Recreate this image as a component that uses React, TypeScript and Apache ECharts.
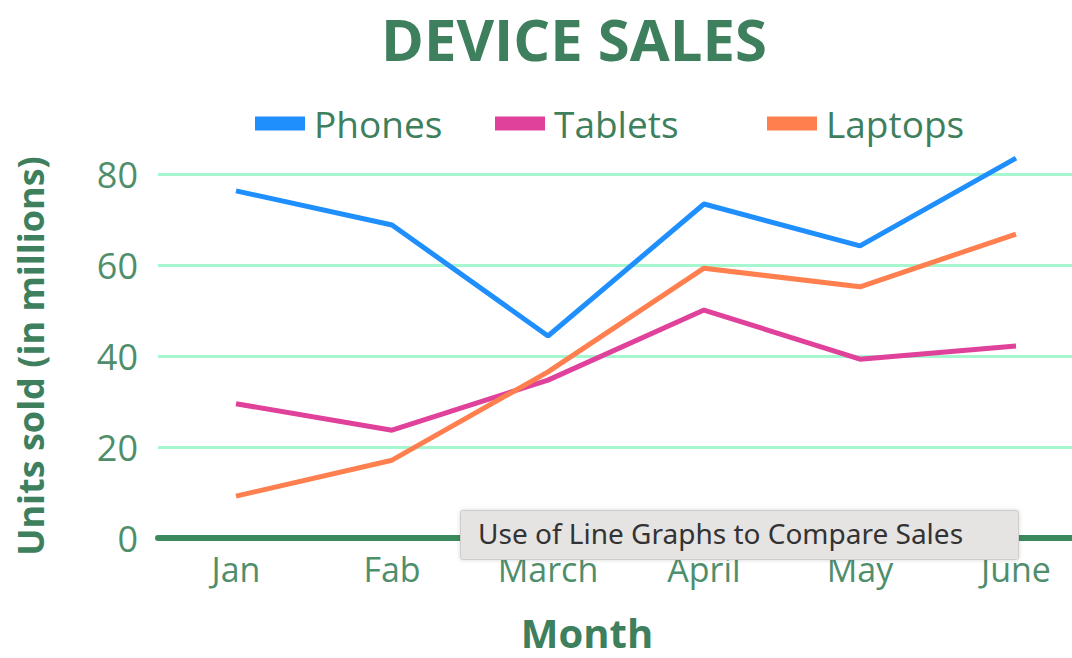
import React, { useEffect, useRef } from "react";
import * as echarts from "echarts";

const months = ["Jan", "Fab", "March", "April", "May", "June"];
const phones = [76.3, 68.8, 44.4, 73.4, 64.2, 83.5];
const tablets = [29.5, 23.7, 34.7, 50.1, 39.3, 42.2];
const laptops = [9.2, 17.1, 36.5, 59.3, 55.2, 66.8];
const seriesNames = ["Phones", "Tablets", "Laptops"];
const seriesColors = ["#1e8ffd", "#e0419a", "#ff7f4f"];
const noteText = "Use of Line Graphs to Compare Sales";

const GREEN = "#3e7f5d";
const FONT = "Open Sans";
const legendLefts = [250, 490, 762];

export default function App() {
  const ref = useRef<HTMLDivElement>(null);
  useEffect(() => {
    if (!ref.current) return;
    const chart = echarts.init(ref.current, undefined, { renderer: "svg" });
    const data = [phones, tablets, laptops];
    chart.setOption({
      animation: false,
      backgroundColor: "#ffffff",
      textStyle: { fontFamily: FONT },
      title: {
        text: "DEVICE SALES",
        left: 376,
        top: 2,
        textStyle: { fontSize: 58, lineHeight: 62, fontWeight: "bold", color: GREEN, fontFamily: FONT },
      },
      legend: seriesNames.map((n, i) => ({
        data: [n],
        left: legendLefts[i],
        top: 100,
        icon: "rect",
        itemWidth: 50,
        itemHeight: 14,
        textStyle: { fontSize: 37, color: GREEN, fontFamily: FONT, padding: [0, 0, 0, 4] },
      })),
      grid: { left: 158, width: 936, top: 174, height: 364 },
      xAxis: {
        type: "category",
        data: months,
        boundaryGap: true,
        axisLine: { show: true, lineStyle: { color: "#3b8a5e", width: 6 } },
        axisTick: { show: false },
        axisLabel: { fontSize: 34, color: "#4f8e6b", margin: 14, fontFamily: FONT },
        name: "Month",
        nameLocation: "middle",
        nameGap: 74,
        nameTextStyle: { fontSize: 40, fontWeight: "bold", color: GREEN, padding: [0, 78, 0, 0] },
      },
      yAxis: {
        type: "value",
        min: 0,
        max: 80,
        interval: 20,
        axisLine: { show: false },
        axisTick: { show: false },
        axisLabel: { fontSize: 36, color: "#4f8e6b", margin: 20, fontFamily: FONT },
        splitLine: { lineStyle: { color: "#a6f6cf", width: 3 } },
        name: "Units sold (in millions)",
        nameLocation: "middle",
        nameRotate: 90,
        nameGap: 110,
        nameTextStyle: { fontSize: 36, fontWeight: "bold", color: GREEN },
      },
      series: seriesNames.map((n, i) => ({
        name: n,
        type: "line",
        data: data[i],
        clip: false,
        symbol: "none",
        lineStyle: { width: 5, color: seriesColors[i] },
        itemStyle: { color: seriesColors[i] },
        z: 3,
      })),
      graphic: [
        {
          type: "rect",
          left: 460,
          top: 510,
          z: 100,
          shape: { x: 0, y: 0, width: 558, height: 49, r: 2 },
          style: {
            fill: "#e6e3e3",
            stroke: "#cfcccc",
            lineWidth: 1,
            shadowBlur: 4,
            shadowColor: "rgba(0,0,0,0.15)",
          },
        },
        {
          type: "text",
          left: 478,
          top: 519,
          z: 101,
          style: {
            text: noteText,
            fontSize: 28,
            fill: "#333333",
            fontFamily: "Noto Sans",
          },
        },
      ],
    });
    return () => chart.dispose();
  }, []);
  return (
    <div style={{ position: "fixed", left: 0, top: 0, width: 1072, height: 658, overflow: "hidden" }}>
      <div ref={ref} style={{ width: 1100, height: 658 }} />
    </div>
  );
}
